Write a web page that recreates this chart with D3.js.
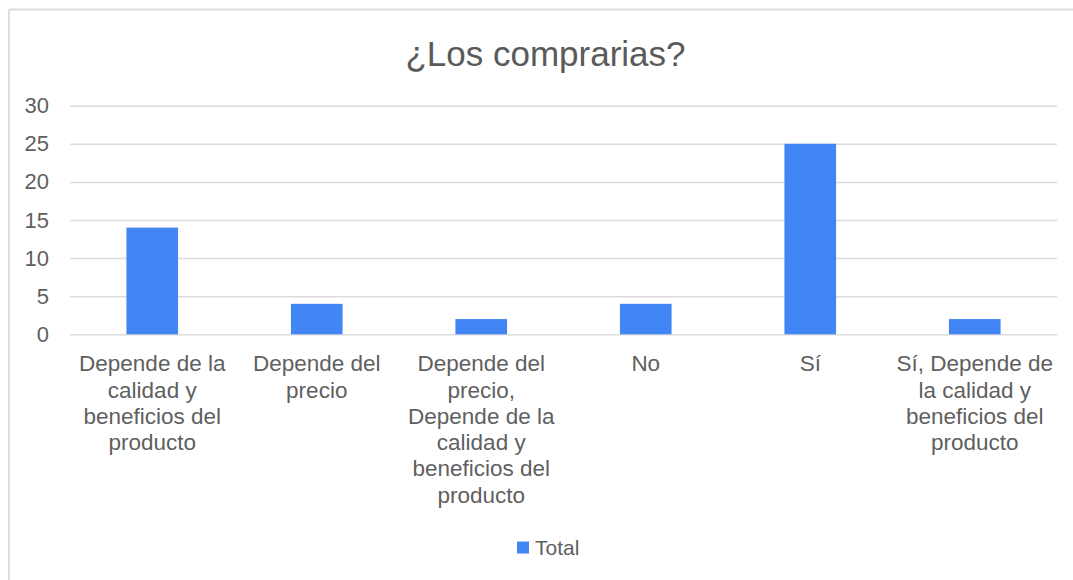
<!DOCTYPE html>
<html>
<head>
<meta charset="utf-8">
<script src="https://cdn.jsdelivr.net/npm/d3@7"></script>
<style>
  html, body { margin: 0; padding: 0; background: #fff; }
  svg { display: block; font-family: "Liberation Sans", Arial, sans-serif; }
</style>
</head>
<body>
<svg id="chart" width="1073" height="580"></svg>
<script>
const title = "¿Los comprarias?";
const categories = [
  "Depende de la calidad y beneficios del producto",
  "Depende del precio",
  "Depende del precio, Depende de la calidad y beneficios del producto",
  "No",
  "Sí",
  "Sí, Depende de la calidad y beneficios del producto"
];
const totals = [14, 4, 2, 4, 25, 2];
const yTicks = [0, 5, 10, 15, 20, 25, 30];
const seriesName = "Total";

const svg = d3.select("#chart");
const W = 1073, H = 580;
const margin = { left: 70, right: 16, top: 105.7, bottom: 245.7 };
const plotW = W - margin.left - margin.right;
const plotH = H - margin.top - margin.bottom;

// frame
svg.append("rect").attr("x", 0).attr("y", 0).attr("width", W).attr("height", H).attr("fill", "#fff");
svg.append("line").attr("x1", 9).attr("x2", W).attr("y1", 9.5).attr("y2", 9.5)
  .attr("stroke", "#dedede").attr("stroke-width", 2);
svg.append("line").attr("x1", 9).attr("x2", 9).attr("y1", 9.5).attr("y2", H)
  .attr("stroke", "#dedede").attr("stroke-width", 2);

// title
svg.append("text").attr("x", 545.5).attr("y", 66)
  .attr("text-anchor", "middle").attr("font-size", 35).attr("fill", "#5a5a5a")
  .text(title);

const x = d3.scaleBand().domain(categories)
  .range([margin.left, margin.left + plotW])
  .paddingInner(0.686).paddingOuter(0.343);
const y = d3.scaleLinear().domain([0, 30]).range([margin.top + plotH, margin.top]);

// grid
const yAxis = d3.axisLeft(y).tickValues(yTicks).tickSize(-plotW).tickPadding(21);
const gy = svg.append("g").attr("transform", `translate(${margin.left},0)`).call(yAxis);
gy.select(".domain").remove();
gy.selectAll(".tick line").attr("stroke", "#dcdcdc").attr("stroke-width", 1.5);
gy.selectAll(".tick text").attr("font-size", 22).attr("fill", "#5f5f5f")
  .attr("font-family", "Liberation Sans, Arial, sans-serif");

// bars
svg.append("g").selectAll("rect").data(categories).join("rect")
  .attr("x", d => x(d))
  .attr("width", x.bandwidth())
  .attr("y", (d, i) => y(totals[i]))
  .attr("height", (d, i) => y(0) - y(totals[i]))
  .attr("fill", "#4285f4");

// x labels
const xAxis = d3.axisBottom(x).tickSize(0).tickPadding(0);
const gx = svg.append("g").attr("transform", `translate(0,${y(0)})`).call(xAxis);
gx.select(".domain").remove();
gx.selectAll(".tick text").attr("font-size", 22.5).attr("fill", "#5f5f5f")
  .attr("font-family", "Liberation Sans, Arial, sans-serif")
  .attr("dy", null).attr("y", 0)
  .each(function (d) {
    const t = d3.select(this);
    const words = d.split(" ");
    t.text(null);
    const maxW = 162;
    let line = [];
    let lineNo = 0;
    let tspan = t.append("tspan").attr("x", 0).attr("y", 37);
    for (const w of words) {
      line.push(w);
      tspan.text(line.join(" "));
      if (tspan.node().getComputedTextLength() > maxW && line.length > 1) {
        line.pop();
        tspan.text(line.join(" "));
        line = [w];
        lineNo++;
        tspan = t.append("tspan").attr("x", 0).attr("y", 37 + lineNo * 26.3).text(w);
      }
    }
  });

// legend
const lg = svg.append("g");
lg.append("rect").attr("x", 517).attr("y", 541.5).attr("width", 12).attr("height", 12).attr("fill", "#4285f4");
lg.append("text").attr("x", 535).attr("y", 555).attr("font-size", 21).attr("fill", "#5f5f5f").text(seriesName);
</script>
</body>
</html>
